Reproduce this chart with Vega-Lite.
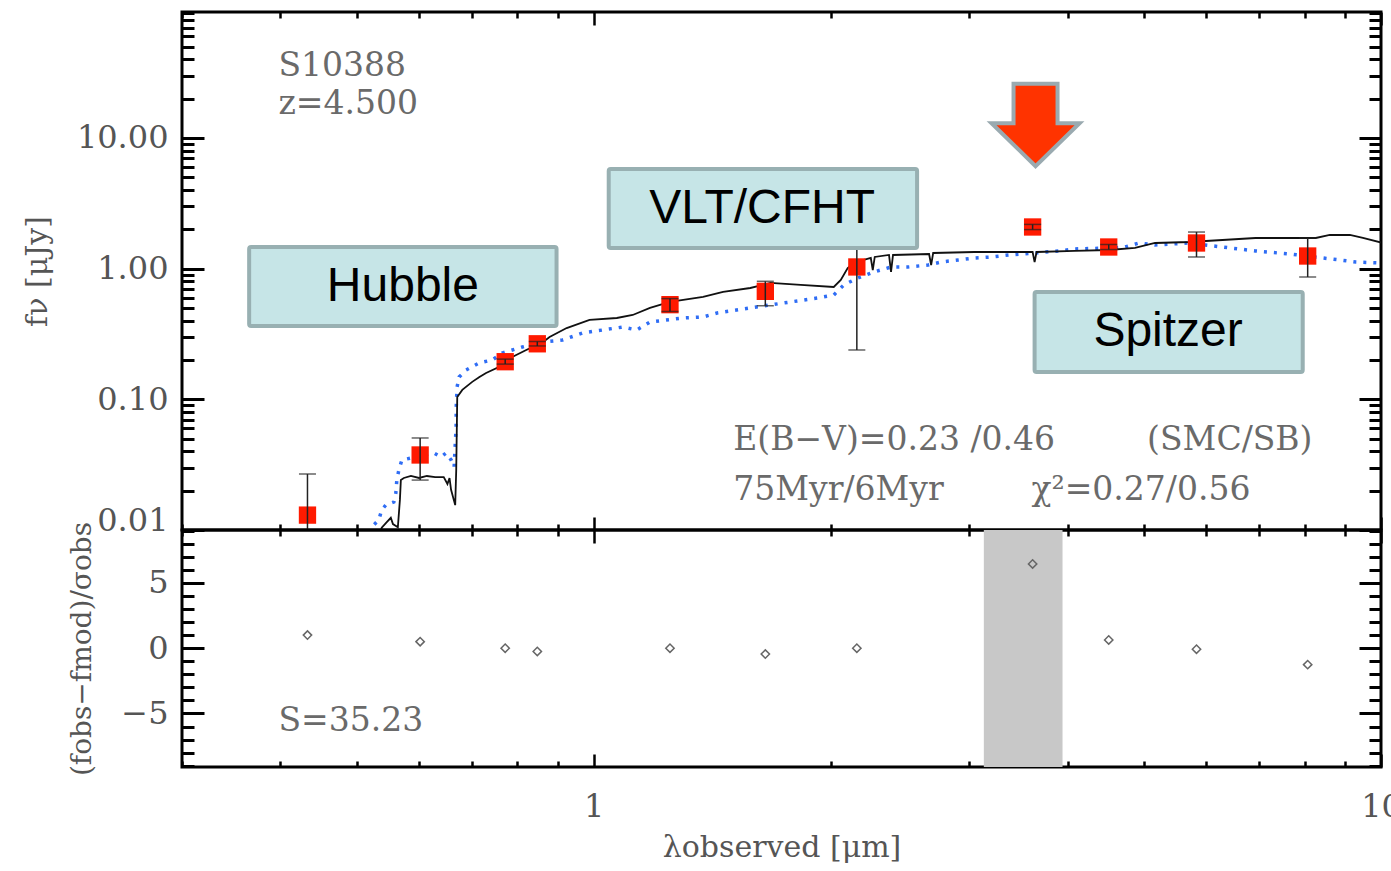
{
  "$schema": "https://vega.github.io/schema/vega-lite/v6.json",
  "background": "white",
  "padding": {"left": 20, "top": 9, "right": 0, "bottom": 0},
  "spacing": 0,
  "bounds": "flush",
  "config": {"view": {"stroke": "black", "strokeWidth": 3}, "font": "DejaVu Serif"},
  "datasets": {
    "obs": [
      {"lam": 0.433, "f": 0.0130, "lo": 0.0005, "hi": 0.0268, "res": 1.0},
      {"lam": 0.602, "f": 0.0375, "lo": 0.0241, "hi": 0.0506, "res": 0.5},
      {"lam": 0.772, "f": 0.194, "lo": 0.186, "hi": 0.203, "res": 0.0},
      {"lam": 0.848, "f": 0.266, "lo": 0.256, "hi": 0.277, "res": -0.25},
      {"lam": 1.25, "f": 0.53, "lo": 0.47, "hi": 0.59, "res": 0.0},
      {"lam": 1.652, "f": 0.67, "lo": 0.52, "hi": 0.80, "res": -0.45},
      {"lam": 2.159, "f": 1.03, "lo": 0.2385, "hi": 1.82, "res": 0.0},
      {"lam": 3.61, "f": 2.083, "lo": 1.99, "hi": 2.18, "res": 6.45},
      {"lam": 4.51, "f": 1.464, "lo": 1.40, "hi": 1.53, "res": 0.63},
      {"lam": 5.83, "f": 1.571, "lo": 1.228, "hi": 1.906, "res": -0.08},
      {"lam": 8.07, "f": 1.249, "lo": 0.863, "hi": 1.716, "res": -1.26}
    ],
    "bc": [
      {"lam": 0.534, "f": 0.009}, {"lam": 0.538, "f": 0.0104}, {"lam": 0.546, "f": 0.0115}, {"lam": 0.5525, "f": 0.0124},
      {"lam": 0.556, "f": 0.0111}, {"lam": 0.564, "f": 0.0105}, {"lam": 0.5674, "f": 0.0170}, {"lam": 0.569, "f": 0.0241},
      {"lam": 0.574, "f": 0.0250}, {"lam": 0.586, "f": 0.0259}, {"lam": 0.600, "f": 0.0250}, {"lam": 0.614, "f": 0.0259},
      {"lam": 0.629, "f": 0.0254}, {"lam": 0.645, "f": 0.0254}, {"lam": 0.652, "f": 0.0225}, {"lam": 0.656, "f": 0.0250},
      {"lam": 0.659, "f": 0.0203}, {"lam": 0.667, "f": 0.0155}, {"lam": 0.669, "f": 0.0288}, {"lam": 0.671, "f": 0.104},
      {"lam": 0.681, "f": 0.118}, {"lam": 0.701, "f": 0.136}, {"lam": 0.716, "f": 0.148}, {"lam": 0.730, "f": 0.159},
      {"lam": 0.759, "f": 0.177}, {"lam": 0.765, "f": 0.190}, {"lam": 0.788, "f": 0.211}, {"lam": 0.821, "f": 0.2385},
      {"lam": 0.836, "f": 0.251}, {"lam": 0.853, "f": 0.261}, {"lam": 0.879, "f": 0.300}, {"lam": 0.924, "f": 0.351},
      {"lam": 0.988, "f": 0.405}, {"lam": 1.070, "f": 0.419}, {"lam": 1.121, "f": 0.442}, {"lam": 1.179, "f": 0.500},
      {"lam": 1.250, "f": 0.556}, {"lam": 1.377, "f": 0.607}, {"lam": 1.460, "f": 0.663}, {"lam": 1.581, "f": 0.711},
      {"lam": 1.677, "f": 0.777}, {"lam": 1.832, "f": 0.750}, {"lam": 2.018, "f": 0.724}, {"lam": 2.060, "f": 0.819},
      {"lam": 2.102, "f": 1.011}, {"lam": 2.140, "f": 1.104}, {"lam": 2.203, "f": 1.165}, {"lam": 2.249, "f": 1.206},
      {"lam": 2.262, "f": 0.976}, {"lam": 2.275, "f": 1.228}, {"lam": 2.372, "f": 1.272}, {"lam": 2.386, "f": 0.943},
      {"lam": 2.400, "f": 1.272}, {"lam": 2.667, "f": 1.294}, {"lam": 2.683, "f": 1.066}, {"lam": 2.699, "f": 1.317},
      {"lam": 3.044, "f": 1.341}, {"lam": 3.610, "f": 1.341}, {"lam": 3.631, "f": 1.124}, {"lam": 3.652, "f": 1.341},
      {"lam": 4.083, "f": 1.365}, {"lam": 4.511, "f": 1.389}, {"lam": 4.870, "f": 1.439}, {"lam": 5.164, "f": 1.571},
      {"lam": 5.705, "f": 1.599}, {"lam": 6.288, "f": 1.656}, {"lam": 6.928, "f": 1.716}, {"lam": 8.263, "f": 1.716},
      {"lam": 8.610, "f": 1.809}, {"lam": 9.130, "f": 1.809}, {"lam": 9.485, "f": 1.716}, {"lam": 10.06, "f": 1.571}
    ],
    "sb": [
      {"lam": 0.515, "f": 0.008}, {"lam": 0.5225, "f": 0.01054}, {"lam": 0.5333, "f": 0.01193}, {"lam": 0.5381, "f": 0.01423},
      {"lam": 0.5445, "f": 0.01553}, {"lam": 0.5574, "f": 0.01637}, {"lam": 0.5607, "f": 0.01919}, {"lam": 0.5623, "f": 0.02413},
      {"lam": 0.5657, "f": 0.02878}, {"lam": 0.5707, "f": 0.03434}, {"lam": 0.586, "f": 0.03556}, {"lam": 0.5946, "f": 0.03434},
      {"lam": 0.6087, "f": 0.0375}, {"lam": 0.6268, "f": 0.03884}, {"lam": 0.6398, "f": 0.0362}, {"lam": 0.6494, "f": 0.03884},
      {"lam": 0.6591, "f": 0.03434}, {"lam": 0.6649, "f": 0.03035}, {"lam": 0.6668, "f": 0.04316}, {"lam": 0.6688, "f": 0.0614},
      {"lam": 0.669, "f": 0.0873}, {"lam": 0.6707, "f": 0.1243}, {"lam": 0.6747, "f": 0.1482}, {"lam": 0.6887, "f": 0.1677},
      {"lam": 0.7155, "f": 0.1897}, {"lam": 0.7434, "f": 0.2}, {"lam": 0.7654, "f": 0.2262}, {"lam": 0.8118, "f": 0.2514},
      {"lam": 0.8608, "f": 0.2746}, {"lam": 0.913, "f": 0.2844}, {"lam": 0.9683, "f": 0.3217}, {"lam": 1.027, "f": 0.3393},
      {"lam": 1.089, "f": 0.3576}, {"lam": 1.134, "f": 0.3393}, {"lam": 1.179, "f": 0.3906}, {"lam": 1.299, "f": 0.4191},
      {"lam": 1.377, "f": 0.4265}, {"lam": 1.435, "f": 0.4577}, {"lam": 1.581, "f": 0.5}, {"lam": 1.742, "f": 0.5459},
      {"lam": 1.925, "f": 0.5963}, {"lam": 2.018, "f": 0.6284}, {"lam": 2.078, "f": 0.7495}, {"lam": 2.102, "f": 0.7765},
      {"lam": 2.165, "f": 0.8481}, {"lam": 2.269, "f": 0.9427}, {"lam": 2.386, "f": 1.029}, {"lam": 2.507, "f": 1.029},
      {"lam": 2.659, "f": 1.066}, {"lam": 2.763, "f": 1.124}, {"lam": 2.904, "f": 1.165}, {"lam": 3.044, "f": 1.206},
      {"lam": 3.2, "f": 1.228}, {"lam": 3.364, "f": 1.272}, {"lam": 3.631, "f": 1.317}, {"lam": 3.896, "f": 1.365},
      {"lam": 4.083, "f": 1.414}, {"lam": 4.511, "f": 1.439}, {"lam": 4.729, "f": 1.464}, {"lam": 4.927, "f": 1.571},
      {"lam": 5.164, "f": 1.517}, {"lam": 5.705, "f": 1.571}, {"lam": 5.979, "f": 1.517}, {"lam": 6.288, "f": 1.464},
      {"lam": 6.928, "f": 1.365}, {"lam": 7.656, "f": 1.294}, {"lam": 8.434, "f": 1.206}, {"lam": 8.866, "f": 1.165},
      {"lam": 9.292, "f": 1.124}, {"lam": 9.97, "f": 1.104}
    ],
    "boxes": [
      {"x1": 0.3651, "x2": 0.8971, "y1": 0.364, "y2": 1.464, "label": "Hubble", "cx": 0.5724, "cy": 0.7235},
      {"x1": 1.045, "x2": 2.575, "y1": 1.439, "y2": 5.788, "label": "VLT/CFHT", "cx": 1.637, "cy": 2.86},
      {"x1": 3.631, "x2": 7.954, "y1": 0.1619, "y2": 0.6625, "label": "Spitzer", "cx": 5.365, "cy": 0.3275}
    ],
    "notes": [
      {"lam": 0.3977, "f": 35.5, "text": "S10388"},
      {"lam": 0.3977, "f": 18.2, "text": "z=4.500"},
      {"lam": 1.504, "f": 0.0488, "text": "E(B−V)=0.23 /0.46"},
      {"lam": 5.046, "f": 0.0488, "text": "(SMC/SB)"},
      {"lam": 1.504, "f": 0.0202, "text": "75Myr/6Myr"},
      {"lam": 3.598, "f": 0.0202, "text": "χ²=0.27/0.56"}
    ],
    "arrow": [{"lam": 3.641, "f": 12.57}],
    "band": [{"lo": 3.13, "hi": 3.94}],
    "snote": [{"lam": 0.3977, "res": -5.6, "text": "S=35.23"}]
  },
  "vconcat": [
    {
      "width": 1199,
      "height": 518,
      "layer": [
        {
          "data": {"name": "sb"},
          "mark": {"type": "line", "color": "#2f6df5", "strokeWidth": 3.5, "strokeDash": [3, 7], "clip": true},
          "encoding": {
            "x": {"field": "lam", "type": "quantitative", "scale": {"type": "log", "domain": [0.3, 10], "nice": false},
              "axis": {"orient": "bottom", "values": [0.3,0.4,0.5,0.6,0.7,0.8,0.9,1,2,3,4,5,6,7,8,9,10], "labels": false, "title": null, "domain": false, "grid": false, "tickColor": "black", "tickWidth": 2.5,
                "tickSize": {"condition": {"test": "datum.value==1||datum.value==10", "value": -13}, "value": -6}}},
            "y": {"field": "f", "type": "quantitative", "scale": {"type": "log", "domain": [0.01, 92], "nice": false},
              "axis": {"orient": "left", "values": [0.01,0.02,0.03,0.04,0.05,0.06,0.07,0.08,0.09,0.1,0.2,0.3,0.4,0.5,0.6,0.7,0.8,0.9,1,2,3,4,5,6,7,8,9,10,20,30,40,50,60,70,80,90],
                "title": "fν [μJy]", "domain": false, "grid": false, "tickColor": "black", "tickWidth": 3,
                "tickSize": {"condition": {"test": "indexof([0.01,0.1,1,10],datum.value)>=0", "value": -22}, "value": -12},
                "labelExpr": "indexof([0.01,0.1,1,10],datum.value)>=0 ? format(datum.value,'.2f') : ''",
                "labelFont": "DejaVu Serif",
                "labelFontSize": {"condition": {"test": "indexof([0.01,0.1,1,10],datum.value)>=0", "value": 32}, "value": 0},
                "labelColor": "#555", "labelPadding": 36, "labelOverlap": false,
                "labelBaseline": {"condition": {"test": "datum.value==0.01", "value": "alphabetic"}, "value": "middle"},
                "titleFont": "DejaVu Serif", "titleFontSize": 30, "titleFontWeight": "normal", "titleColor": "#555", "titlePadding": 24}}
          }
        },
        {
          "data": {"name": "bc"},
          "mark": {"type": "line", "color": "#111111", "strokeWidth": 1.8, "clip": true},
          "encoding": {
            "x": {"field": "lam", "type": "quantitative", "scale": {"type": "log", "domain": [0.3, 10], "nice": false}, "axis": null},
            "y": {"field": "f", "type": "quantitative", "scale": {"type": "log", "domain": [0.01, 92], "nice": false}, "axis": null}
          }
        },
        {
          "data": {"name": "obs"},
          "mark": {"type": "point", "shape": "square", "filled": true, "color": "#ff1a00", "opacity": 1, "size": 300, "clip": true},
          "encoding": {
            "x": {"field": "lam", "type": "quantitative", "axis": null},
            "y": {"field": "f", "type": "quantitative", "axis": null}
          }
        },
        {
          "data": {"name": "obs"},
          "mark": {"type": "rule", "color": "#222222", "strokeWidth": 1.5, "clip": true},
          "encoding": {
            "x": {"field": "lam", "type": "quantitative", "axis": null},
            "y": {"field": "lo", "type": "quantitative", "axis": null},
            "y2": {"field": "hi"}
          }
        },
        {
          "data": {"name": "obs"},
          "mark": {"type": "tick", "orient": "horizontal", "color": "#222222", "size": 17, "thickness": 1.5, "clip": true},
          "encoding": {
            "x": {"field": "lam", "type": "quantitative", "axis": null},
            "y": {"field": "lo", "type": "quantitative", "axis": null}
          }
        },
        {
          "data": {"name": "obs"},
          "mark": {"type": "tick", "orient": "horizontal", "color": "#222222", "size": 17, "thickness": 1.5, "clip": true},
          "encoding": {
            "x": {"field": "lam", "type": "quantitative", "axis": null},
            "y": {"field": "hi", "type": "quantitative", "axis": null}
          }
        },
        {
          "data": {"name": "boxes"},
          "mark": {"type": "rect", "fill": "#c6e5e7", "stroke": "#98b0b2", "strokeWidth": 4, "cornerRadius": 2},
          "encoding": {
            "x": {"field": "x1", "type": "quantitative", "axis": null},
            "x2": {"field": "x2"},
            "y": {"field": "y1", "type": "quantitative", "axis": null},
            "y2": {"field": "y2"}
          }
        },
        {
          "data": {"name": "boxes"},
          "mark": {"type": "text", "font": "Liberation Sans", "fontSize": 48, "color": "black", "align": "center", "baseline": "middle"},
          "encoding": {
            "x": {"field": "cx", "type": "quantitative", "axis": null},
            "y": {"field": "cy", "type": "quantitative", "axis": null},
            "text": {"field": "label"}
          }
        },
        {
          "data": {"name": "notes"},
          "mark": {"type": "text", "font": "DejaVu Serif", "fontSize": 33, "color": "#6a6a6a", "align": "left", "baseline": "middle"},
          "encoding": {
            "x": {"field": "lam", "type": "quantitative", "axis": null},
            "y": {"field": "f", "type": "quantitative", "axis": null},
            "text": {"field": "text"}
          }
        },
        {
          "data": {"name": "arrow"},
          "mark": {"type": "point", "shape": "M -0.5 -0.935 L 0.5 -0.935 L 0.5 -0.04 L 1 -0.04 L 0 0.935 L -1 -0.04 L -0.5 -0.04 Z", "filled": true, "fill": "#ff3300", "stroke": "#9aaab0", "strokeWidth": 4, "opacity": 1, "size": 7744},
          "encoding": {
            "x": {"field": "lam", "type": "quantitative", "axis": null},
            "y": {"field": "f", "type": "quantitative", "axis": null}
          }
        },
        {
          "data": {"name": "obs"},
          "mark": {"type": "point", "opacity": 0},
          "encoding": {
            "x": {"field": "lam", "type": "quantitative",
              "axis": {"orient": "top", "values": [0.3,0.4,0.5,0.6,0.7,0.8,0.9,1,2,3,4,5,6,7,8,9,10], "labels": false, "title": null, "domain": false, "grid": false, "tickColor": "black", "tickWidth": 2.5,
                "tickSize": {"condition": {"test": "datum.value==1||datum.value==10", "value": -13}, "value": -6}}},
            "y": {"field": "f", "type": "quantitative",
              "axis": {"orient": "right", "values": [0.01,0.02,0.03,0.04,0.05,0.06,0.07,0.08,0.09,0.1,0.2,0.3,0.4,0.5,0.6,0.7,0.8,0.9,1,2,3,4,5,6,7,8,9,10,20,30,40,50,60,70,80,90],
                "labels": false, "title": null, "domain": false, "grid": false, "tickColor": "black", "tickWidth": 3,
                "tickSize": {"condition": {"test": "indexof([0.01,0.1,1,10],datum.value)>=0", "value": -22}, "value": -12}}}
          }
        }
      ],
      "resolve": {"axis": {"x": "independent", "y": "independent"}}
    },
    {
      "width": 1199,
      "height": 237,
      "layer": [
        {
          "data": {"name": "band"},
          "mark": {"type": "rect", "fill": "#c8c8c8"},
          "encoding": {
            "x": {"field": "lo", "type": "quantitative", "scale": {"type": "log", "domain": [0.3, 10], "nice": false}, "axis": null},
            "x2": {"field": "hi"}
          }
        },
        {
          "mark": {"type": "rule", "color": "#777777", "strokeWidth": 1.5, "strokeDash": [2, 5]},
          "encoding": {
            "y": {"datum": 0, "type": "quantitative", "scale": {"domain": [-9.1, 9.05], "nice": false, "zero": false}, "axis": null}
          }
        },
        {
          "data": {"name": "obs"},
          "mark": {"type": "point", "shape": "diamond", "filled": false, "color": "#666666", "strokeWidth": 1.5, "size": 70, "opacity": 1},
          "encoding": {
            "x": {"field": "lam", "type": "quantitative", "scale": {"type": "log", "domain": [0.3, 10], "nice": false},
              "axis": {"orient": "bottom", "values": [0.3,0.4,0.5,0.6,0.7,0.8,0.9,1,2,3,4,5,6,7,8,9,10], "title": "λobserved [μm]", "domain": false, "grid": false, "tickColor": "black", "tickWidth": 2.5,
                "tickSize": {"condition": {"test": "datum.value==1||datum.value==10", "value": -13}, "value": -6},
                "labelExpr": "(datum.value==1||datum.value==10) ? ''+datum.value : ''", "labelFlush": false, "labelOverlap": false,
                "labelFont": "DejaVu Serif",
                "labelFontSize": {"condition": {"test": "datum.value==1||datum.value==10", "value": 32}, "value": 0},
                "labelColor": "#555", "labelPadding": 37,
                "titleFont": "DejaVu Serif", "titleFontSize": 30, "titleFontWeight": "normal", "titleColor": "#555", "titlePadding": 10}},
            "y": {"field": "res", "type": "quantitative", "scale": {"domain": [-9.1, 9.05], "nice": false, "zero": false},
              "axis": {"orient": "left", "values": [-9,-8,-7,-6,-5,-4,-3,-2,-1,0,1,2,3,4,5,6,7,8,9], "title": "(fobs−fmod)/σobs", "domain": false, "grid": false, "tickColor": "black", "tickWidth": 3,
                "tickSize": {"condition": {"test": "datum.value % 5 == 0", "value": -22}, "value": -12},
                "labelExpr": "datum.value % 5 == 0 ? (datum.value < 0 ? '−' + (-datum.value) : '' + datum.value) : ''",
                "labelFont": "DejaVu Serif",
                "labelFontSize": {"condition": {"test": "datum.value % 5 == 0", "value": 32}, "value": 0},
                "labelColor": "#555", "labelPadding": 36, "labelOverlap": false,
                "titleFont": "DejaVu Serif", "titleFontSize": 28, "titleFontWeight": "normal", "titleColor": "#555", "titlePadding": 24}}
          }
        },
        {
          "data": {"name": "snote"},
          "mark": {"type": "text", "font": "DejaVu Serif", "fontSize": 33, "color": "#6a6a6a", "align": "left", "baseline": "middle"},
          "encoding": {
            "x": {"field": "lam", "type": "quantitative", "axis": null},
            "y": {"field": "res", "type": "quantitative", "axis": null},
            "text": {"field": "text"}
          }
        },
        {
          "data": {"name": "obs"},
          "mark": {"type": "point", "opacity": 0},
          "encoding": {
            "x": {"field": "lam", "type": "quantitative",
              "axis": {"orient": "top", "values": [0.3,0.4,0.5,0.6,0.7,0.8,0.9,1,2,3,4,5,6,7,8,9,10], "labels": false, "title": null, "domain": false, "grid": false, "tickColor": "black", "tickWidth": 2.5,
                "tickSize": {"condition": {"test": "datum.value==1||datum.value==10", "value": -13}, "value": -6}}},
            "y": {"field": "res", "type": "quantitative",
              "axis": {"orient": "right", "values": [-9,-8,-7,-6,-5,-4,-3,-2,-1,0,1,2,3,4,5,6,7,8,9], "labels": false, "title": null, "domain": false, "grid": false, "tickColor": "black", "tickWidth": 3,
                "tickSize": {"condition": {"test": "datum.value % 5 == 0", "value": -22}, "value": -12}}}
          }
        }
      ],
      "resolve": {"axis": {"x": "independent", "y": "independent"}}
    }
  ]
}
